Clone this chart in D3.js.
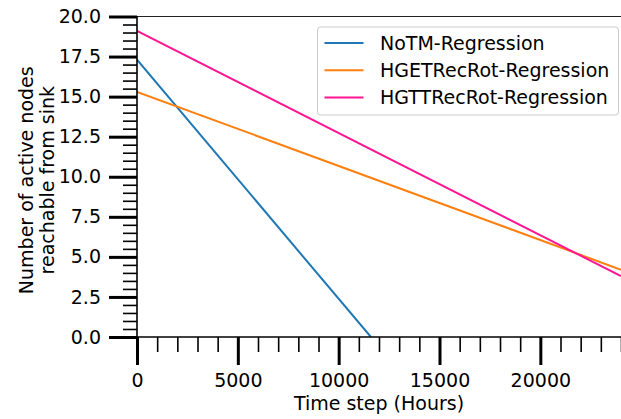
<!DOCTYPE html>
<html>
<head>
<meta charset="utf-8">
<script src="https://cdn.jsdelivr.net/npm/d3@7"></script>
<style>
  body { margin: 0; background: #fff; }
  text { font-family: 'DejaVu Sans', sans-serif; }
</style>
</head>
<body>
<div id="chart"></div>
<script>
// regression lines, each drawn from its start point to its end point
let seriesNames = ['NoTM-Regression', 'HGETRecRot-Regression', 'HGTTRecRot-Regression']
let startHours = [0, 0, 0]
let startValues = [17.3, 15.3, 19.1]
let endHours = [11600, 24000, 24000]
let endValues = [0, 4.2, 3.8]

let xTicks = [0, 5000, 10000, 15000, 20000]
let yTicks = [0, 2.5, 5, 7.5, 10, 12.5, 15, 17.5, 20]

let colors = ['#1f77b4', '#ff7f0e', '#ff1493']

let fontSize = 19

let margin = { top: 16.5, left: 137, right: 0, bottom: 82 }
let width = 621 - margin.left - margin.right
let height = 419 - margin.top - margin.bottom

let svg = d3
  .select('#chart')
  .append('svg')
  .attr('width', 621)
  .attr('height', 419)
  .append('g')
  .attr('transform', 'translate(' + margin.left + ',' + margin.top + ')')

let xPositionScale = d3.scaleLinear().domain([0, 24000]).range([0, width])
let yPositionScale = d3.scaleLinear().domain([0, 20]).range([height, 0])

let lineData = seriesNames.map((name, i) => {
  return {
    key: name,
    values: [
      { hour: startHours[i], value: startValues[i] },
      { hour: endHours[i], value: endValues[i] }
    ]
  }
})

let line = d3
  .line()
  .x(d => xPositionScale(d.hour))
  .y(d => yPositionScale(d.value))

svg
  .append('clipPath')
  .attr('id', 'clip')
  .append('rect')
  .attr('width', width)
  .attr('height', height)

svg
  .append('g')
  .attr('clip-path', 'url(#clip)')
  .selectAll('path')
  .data(lineData)
  .enter()
  .append('path')
  .attr('d', d => line(d.values))
  .attr('stroke', (d, i) => colors[i])
  .attr('stroke-width', 2)
  .attr('fill', 'none')

// top spine
svg
  .append('line')
  .attr('x1', 0)
  .attr('x2', width)
  .attr('y1', 0)
  .attr('y2', 0)
  .attr('stroke', '#222')
  .attr('stroke-width', 1)

// minor ticks
let xMinor = d3.range(0, 24001, 1000).filter(d => d % 5000 !== 0)
let yMinor = d3.range(0, 20.01, 0.5).filter(d => Math.abs(d / 2.5 - Math.round(d / 2.5)) > 0.01)

svg
  .append('g')
  .attr('class', 'axis x-minor')
  .attr('transform', 'translate(0,' + height + ')')
  .call(d3.axisBottom(xPositionScale).tickValues(xMinor).tickSize(15).tickFormat(''))
svg
  .append('g')
  .attr('class', 'axis y-minor')
  .call(d3.axisLeft(yPositionScale).tickValues(yMinor).tickSize(14).tickFormat(''))

let xAxis = d3
  .axisBottom(xPositionScale)
  .tickValues(xTicks)
  .tickSize(28)
  .tickPadding(8)
  .tickFormat(d3.format('d'))

svg
  .append('g')
  .attr('class', 'axis x-axis')
  .attr('transform', 'translate(0,' + height + ')')
  .call(xAxis)

let yAxis = d3
  .axisLeft(yPositionScale)
  .tickValues(yTicks)
  .tickSize(28)
  .tickPadding(8)
  .tickFormat(d3.format('.1f'))

svg
  .append('g')
  .attr('class', 'axis y-axis')
  .call(yAxis)

svg.selectAll('.axis .domain').remove()
svg.selectAll('.x-minor line, .y-minor line').attr('stroke', '#000').attr('stroke-width', 1.6)
svg.selectAll('.x-axis line, .y-axis line').attr('stroke', '#000').attr('stroke-width', 3)
svg
  .selectAll('.x-axis text, .y-axis text')
  .attr('fill', '#000')
  .attr('font-size', fontSize)
  .attr('font-family', 'DejaVu Sans')
svg.selectAll('.x-axis text').attr('dy', null).attr('y', 49.5)

// left and bottom spines
svg
  .append('line')
  .attr('x1', 0)
  .attr('x2', 0)
  .attr('y1', 0)
  .attr('y2', height)
  .attr('stroke', '#000')
  .attr('stroke-width', 1.6)
svg
  .append('line')
  .attr('x1', 0)
  .attr('x2', width)
  .attr('y1', height)
  .attr('y2', height)
  .attr('stroke', '#000')
  .attr('stroke-width', 1.6)

// axis titles
svg
  .append('text')
  .attr('x', width / 2)
  .attr('y', height + 73)
  .attr('text-anchor', 'middle')
  .attr('font-size', fontSize)
  .text('Time step (Hours)')

let yTitle = svg
  .append('text')
  .attr('transform', 'translate(' + -104 + ',' + (height / 2 + 3.5) + ') rotate(-90)')
  .attr('text-anchor', 'middle')
  .attr('font-size', fontSize)
yTitle.append('tspan').attr('x', 0).attr('dy', 0).text('Number of active nodes')
yTitle.append('tspan').attr('x', 0).attr('dy', 21).text('reachable from sink')

// legend
let legend = svg.append('g').attr('transform', 'translate(180.5,10.5)')
legend
  .append('rect')
  .attr('width', 301)
  .attr('height', 88)
  .attr('rx', 3)
  .attr('fill', 'rgba(255,255,255,0.8)')
  .attr('stroke', '#ccc')

let legendItems = legend
  .selectAll('.legend-item')
  .data(seriesNames)
  .enter()
  .append('g')
  .attr('class', 'legend-item')
  .attr('transform', (d, i) => 'translate(0,' + (16 + i * 27.3) + ')')

legendItems
  .append('line')
  .attr('x1', 7)
  .attr('x2', 46)
  .attr('stroke', (d, i) => colors[i])
  .attr('stroke-width', 2)

legendItems
  .append('text')
  .attr('x', 62.5)
  .attr('dy', '0.36em')
  .attr('font-size', fontSize)
  .text(d => d)
</script>
</body>
</html>
